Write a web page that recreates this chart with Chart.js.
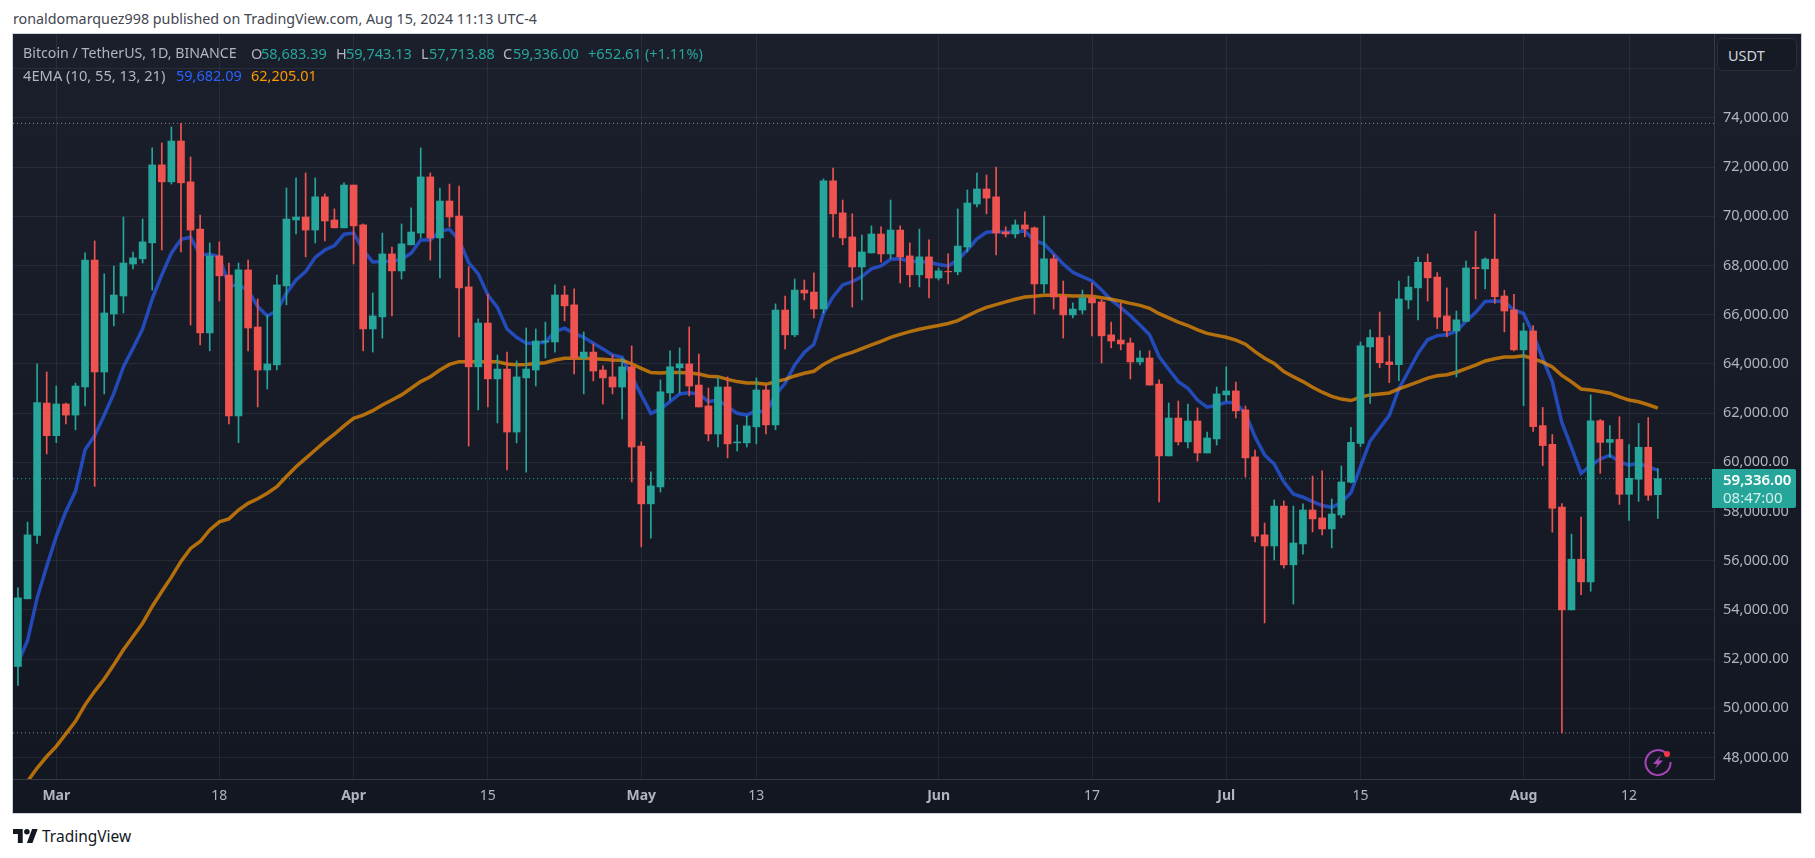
<!DOCTYPE html>
<html>
<head>
<meta charset="utf-8">
<title>BTCUSDT</title>
<script src="https://cdn.jsdelivr.net/npm/chart.js@4"></script>
<style>
  html, body { margin: 0; padding: 0; background: #fff; width: 1815px; height: 858px; overflow: hidden; }
  body { position: relative; font-family: "Noto Sans", sans-serif; font-size: 14.5px; color: #b2b5be; }
  .abs { position: absolute; white-space: nowrap; line-height: 18px; }
  #panel { position: absolute; left: 13px; top: 34px; width: 1788px; height: 779px;
    background: linear-gradient(#1b1f2b, #131722); outline: 1px solid #d1d4dc; }
  #chart { position: absolute; left: 0; top: 0; }
  .up { color: #26a69a; }
  #unit { position: absolute; left: 1717px; top: 38px; width: 80px; height: 33px; box-sizing: border-box;
    border: 1px solid #2a2e39; border-radius: 6px; background: #161a25; color: #d1d4dc; padding: 7px 0 0 10px; line-height: 18px; }
  #lastBox { position: absolute; left: 1712px; top: 469px; width: 84px; height: 39px; background: #26a69a; color: #fff; border-radius: 0 2px 2px 0; }
  #lastBox div { position: absolute; left: 11px; line-height: 18px; font-size: 15px; }
</style>
</head>
<body>
<div class="abs" style="left:13px;top:10px;color:#434651;font-size:14.3px">ronaldomarquez998 published on TradingView.com, Aug 15, 2024 11:13 UTC-4</div>
<div id="panel"><canvas id="chart" width="1788" height="779"></canvas></div>

<div class="abs" style="left:23px;top:44px;font-size:14.2px">Bitcoin / TetherUS, 1D, BINANCE</div>
<div class="abs" style="left:251px;top:44px">O</div><div class="abs up" style="left:261px;top:44px">58,683.39</div>
<div class="abs" style="left:336px;top:44px">H</div><div class="abs up" style="left:346px;top:44px">59,743.13</div>
<div class="abs" style="left:421px;top:44px">L</div><div class="abs up" style="left:429px;top:44px">57,713.88</div>
<div class="abs" style="left:503px;top:44px">C</div><div class="abs up" style="left:513px;top:44px">59,336.00</div>
<div class="abs up" style="left:588px;top:44px">+652.61</div>
<div class="abs up" style="left:645px;top:44px">(+1.11%)</div>
<div class="abs" style="left:23px;top:66px;font-size:14.7px">4EMA (10, 55, 13, 21)</div>
<div class="abs" style="left:176px;top:66px;color:#2962ff">59,682.09</div>
<div class="abs" style="left:251px;top:66px;color:#ff9800">62,205.01</div>

<div id="unit">USDT</div>
<div id="lastBox"><div style="top:1px;font-weight:600">59,336.00</div><div style="top:19px;color:#d4efec">08:47:00</div></div>

<svg class="abs" style="left:1643px;top:747px" width="30" height="30" viewBox="0 0 30 30">
  <path d="M23 6 A12.5 12.5 0 1 0 27.5 15" fill="none" stroke="#a845b8" stroke-width="2"/>
  <path d="M18 8 L10 17 L14.5 17 L12 22 L20 13.5 L15.5 13.5 Z" fill="#a845b8"/>
  <circle cx="24" cy="7" r="3" fill="#f23645"/>
</svg>

<svg class="abs" style="left:13px;top:829px" width="25" height="14" viewBox="0 0 36 20">
  <path d="M14 20H7V7H0V0h14v20zM28 20h-8l7.5-20h8L28 20z" fill="#131722"/>
  <circle cx="20" cy="4" r="4" fill="#131722"/>
</svg>
<div class="abs" style="left:42px;top:827px;color:#131722;font-size:15.5px">TradingView</div>

<script>
// Bitcoin / TetherUS, velas diarias. Dia 0 = 1 mar, primeira vela = 26 fev
const opens = [51700,54450,57030,62410,61080,62370,61920,63060,68220,63670,66030,66760,68060,68270,68920,72090,71400,73060,71400,69480,65260,68390,67610,61880,67820,65500,63750,63960,67170,69850,69970,69440,70790,69850,69530,71270,69650,65420,65910,68470,67780,68840,69320,71600,69120,70620,70010,67130,63880,65660,63390,63790,61230,63430,63750,64890,64890,66800,66400,64240,64480,63750,63470,63060,63880,60660,58310,59000,62820,63840,64000,63140,62290,61150,63060,60790,60790,61440,62940,61520,66190,65180,67000,66920,66230,71440,70140,69160,67940,68510,69280,68470,69440,68390,67620,68350,67490,67760,67740,68750,70500,71110,70790,69360,69280,69650,69530,67250,68270,66760,65990,66190,66680,66520,65180,64970,64850,64080,64240,63180,60260,61800,60830,61680,60380,60950,62740,62900,62130,60220,57050,56600,58220,55830,56680,58060,57740,57290,57860,59190,60770,64690,65070,64080,63970,66600,67090,68130,67530,65950,65340,65730,67920,67860,68260,66760,66190,64570,65340,61490,60730,58180,54000,56060,55140,61690,60810,60930,58700,59310,60610,58683.39]
const highs = [54900,57570,64000,63670,63100,62410,63220,68510,69000,67660,67980,69970,68550,69890,72780,72980,73630,73777,72410,70050,68920,68960,68100,68100,68220,66640,65990,67610,71150,71560,71760,71560,70910,70300,71360,71270,69690,66880,69320,68750,69690,70340,72780,71760,71150,71310,71230,67950,65830,66840,64360,64480,64120,65460,65420,65700,67210,67170,67050,65300,64810,63920,64360,64240,64730,60830,59610,63350,64530,64650,65500,64400,63020,63430,63470,61520,61880,63430,63140,66440,66760,67450,67410,67700,71520,71960,70660,70100,69240,69610,69570,70660,69610,68920,69480,69040,67900,68470,70300,71070,71760,71680,72000,69570,69850,70180,69570,70010,68430,67370,66480,67000,67290,66600,65700,66480,65050,64530,64530,63350,62410,62490,62370,62210,61230,63060,63880,63260,62290,60500,57530,58470,58430,58220,58310,59440,59650,58510,59850,61420,64890,65380,66110,65140,67370,67570,68340,68470,67710,67090,66150,68180,69390,68310,70090,66990,66830,65660,65560,62230,61130,58320,57080,57770,62740,61740,61490,61850,60720,61580,61820,59743.13]
const lows = [50930,54450,56700,60340,60800,61560,61320,62290,59020,62780,65540,66070,67860,68100,67000,68630,71310,68550,65580,64770,64530,66560,61560,60800,64530,62250,62980,63750,66400,69280,68350,68920,69000,69530,69530,68060,64530,64480,65050,65950,67450,68840,69120,68220,67490,69570,65100,60660,62130,62250,61600,59690,60790,59600,63100,64240,64480,65750,63590,62780,63310,62370,62780,61760,59200,56560,56920,58790,62530,62820,62700,62250,60870,60620,60180,60460,60620,60750,61150,61320,64610,65100,66600,65870,66070,69160,68840,66310,66600,68510,68140,68290,67290,67130,67130,66680,67410,67250,67620,68550,70380,70100,68430,69160,69120,69160,66030,66880,66230,65050,65870,66030,65140,64040,64650,64570,63390,63960,63140,58390,60260,60700,60580,60050,60380,60700,62490,61800,59400,56760,53470,56030,55700,54240,56270,57170,57050,56520,57740,59160,60640,62390,63850,63240,63320,66240,65790,66560,65430,65100,63470,65730,66640,67050,66460,65300,64530,62300,61250,59870,57160,49000,54000,54620,54760,59550,60200,58290,57640,58410,58450,57713.88]
const closes = [54490,57050,62430,61080,62370,61920,63100,68220,63670,66070,66800,68100,68310,68960,72090,71400,73060,71360,69440,65260,68390,67580,61880,67820,65460,63750,64000,67210,69890,69970,69440,70790,69810,69530,71270,69610,65420,65950,68470,67780,68880,69360,71600,69120,70620,69970,67090,63880,65660,63390,63790,61230,63470,63790,64930,64930,66800,66360,64240,64480,63710,63430,63060,63880,60620,58310,59040,62860,63880,64000,63100,62250,61150,63060,60750,60830,61480,62940,61520,66190,65180,67000,66880,66230,71440,70100,69120,67940,68550,69280,68470,69440,68350,67620,68350,67490,67780,67740,68790,70540,71110,70740,69320,69280,69650,69480,67250,68270,66720,65990,66230,66680,66480,65140,64930,64810,64080,64240,63140,60260,61800,60830,61680,60380,60990,62780,62900,62090,60180,57000,56600,58220,55830,56720,58060,57700,57290,57900,59200,60810,64730,65070,64050,63970,66640,67120,68130,67500,65900,65340,65790,67900,67870,68260,66730,66150,64570,65340,61450,60680,58130,54000,56060,55140,61690,60810,60930,58700,59350,60610,58660,59336]
const emaFast = [51840,52750,54480,55770,56990,58000,58820,60510,61080,61920,62800,63890,64630,65420,66640,67620,68500,69060,69150,68430,68460,68360,67170,67210,67000,66330,65950,66160,66870,67410,67750,68330,68630,68810,69270,69320,68630,68140,68160,68170,68250,68500,69040,69040,69400,69470,69040,68120,67660,66800,66300,65420,65080,64840,64850,64880,65310,65450,65240,65080,64840,64610,64360,64270,63480,62740,61990,62170,62470,62780,62830,62780,62470,62530,62260,61990,61920,62100,62020,62740,63210,63960,64470,64800,66060,66730,67210,67340,67550,67860,67980,68250,68270,68160,68160,68130,68040,67980,68220,68630,69080,69350,69380,69340,69380,69400,69010,68880,68470,68060,67720,67550,67370,67000,66600,66290,65960,65580,65180,64300,63780,63280,63010,62530,62240,62320,62440,62410,61990,61040,60300,59930,59210,58710,58580,58400,58240,58170,58360,58760,59830,60860,61390,61910,62980,63700,64430,64980,65150,65180,65330,65730,66090,66540,66560,66530,66190,66050,65220,64210,63270,61610,60600,59550,59870,60130,60290,60020,59880,59970,59800,59682.09]
const emaSlow = [46700,47030,47570,48040,48450,48960,49470,50140,50690,51190,51770,52380,52920,53460,54140,54750,55330,55970,56500,56780,57250,57580,57700,58060,58330,58520,58740,59010,59420,59820,60160,60500,60840,61140,61480,61790,61920,62100,62330,62530,62740,63010,63280,63480,63750,63980,64090,64090,64090,64090,64090,64000,63970,63980,64020,64050,64160,64230,64230,64230,64210,64190,64160,64150,64000,63820,63650,63630,63650,63650,63630,63590,63500,63480,63370,63280,63220,63220,63170,63280,63370,63510,63620,63700,63980,64190,64350,64470,64620,64770,64920,65080,65200,65310,65410,65490,65560,65640,65760,65950,66140,66300,66410,66520,66630,66720,66750,66790,66790,66780,66760,66760,66750,66690,66630,66550,66460,66380,66260,66040,65870,65700,65560,65380,65240,65160,65080,64970,64800,64500,64230,64020,63690,63480,63280,63050,62850,62680,62570,62510,62650,62740,62780,62820,62980,63130,63270,63420,63520,63560,63660,63810,63950,64120,64210,64280,64280,64330,64210,64070,63880,63530,63270,62980,62940,62880,62810,62660,62530,62460,62340,62205.01]

const priceTicks = [48000,50000,52000,54000,56000,58000,60000,62000,64000,66000,68000,70000,72000,74000,76000]
const dayTicks = [0,17,31,45,61,73,92,108,122,136,153,164]
const dayLabels = ["Mar","18","Apr","15","May","13","Jun","17","Jul","15","Aug","12"]
const boldLabels = ["Mar","Apr","May","Jun","Jul","Aug"]
const highLevel = 73777
const lowLevel = 49000
const lastPrice = 59336

const firstDay = -4
const xMin = -4.515
const xMax = 172.86

const GREEN = "#26a69a"
const RED = "#ef5350"
const GRID = "rgba(240,243,250,0.07)"
const AXIS = "#363a45"

const days = opens.map((_, i) => i + firstDay)
const candleColors = opens.map((o, i) => (closes[i] >= o ? GREEN : RED))

function levelLine(price, color) {
  return {
    type: "line",
    data: [{ x: xMin, y: price }, { x: xMax, y: price }],
    borderColor: color,
    borderWidth: 1,
    borderDash: [1, 3],
    pointRadius: 0,
    order: 5,
  }
}

function emaLine(values, color) {
  return {
    type: "line",
    data: days.map((d, i) => ({ x: d, y: values[i] })),
    borderColor: color,
    borderWidth: 3.5,
    pointRadius: 0,
    tension: 0,
    order: 3,
  }
}

new Chart(document.getElementById("chart"), {
  type: "bar",
  data: {
    datasets: [
      levelLine(highLevel, "rgba(178,181,190,0.75)"),
      levelLine(lowLevel, "rgba(178,181,190,0.75)"),
      levelLine(lastPrice, GREEN),
      emaLine(emaSlow, "rgba(255,152,0,0.68)"),
      emaLine(emaFast, "rgba(41,98,255,0.68)"),
      {
        // pavio
        data: days.map((d, i) => ({ x: d, y: [lows[i], highs[i]] })),
        backgroundColor: candleColors,
        barThickness: 1,
        grouped: false,
        order: 2,
      },
      {
        // corpo
        data: days.map((d, i) => ({ x: d, y: [opens[i], closes[i]] })),
        backgroundColor: candleColors,
        barThickness: 7,
        grouped: false,
        order: 1,
      },
    ],
  },
  options: {
    responsive: false,
    animation: false,
    events: [],
    layout: { padding: 0 },
    plugins: { legend: { display: false }, tooltip: { enabled: false } },
    scales: {
      x: {
        type: "linear",
        offset: false,
        min: xMin,
        max: xMax,
        afterBuildTicks: (axis) => { axis.ticks = dayTicks.map((v) => ({ value: v })) },
        afterFit: (axis) => {
          axis.height = 34
          axis.paddingLeft = 0
          axis.paddingRight = 0
        },
        grid: { color: GRID, drawTicks: false, offset: false },
        border: { color: AXIS },
        ticks: {
          autoSkip: false,
          maxRotation: 0,
          padding: 9,
          color: "#b2b5be",
          callback: (v) => dayLabels[dayTicks.indexOf(v)],
          font: (c) => ({
            family: "Noto Sans",
            size: 14,
            weight: boldLabels.includes(dayLabels[dayTicks.indexOf(c.tick ? c.tick.value : -1)]) ? "bold" : "normal",
          }),
        },
      },
      y: {
        position: "right",
        min: 47126,
        max: 77410,
        afterBuildTicks: (axis) => { axis.ticks = priceTicks.map((v) => ({ value: v })) },
        afterFit: (axis) => {
          axis.width = 87
          axis.paddingTop = 0
          axis.paddingBottom = 0
        },
        grid: { color: GRID, drawTicks: false },
        border: { color: AXIS },
        ticks: {
          autoSkip: false,
          padding: 9,
          color: "#b2b5be",
          font: { family: "Noto Sans", size: 14.5 },
          callback: (v) => (v > 74000 ? "" : v.toLocaleString("en-US", { minimumFractionDigits: 2 })),
        },
      },
    },
  },
})
</script>
</body>
</html>
